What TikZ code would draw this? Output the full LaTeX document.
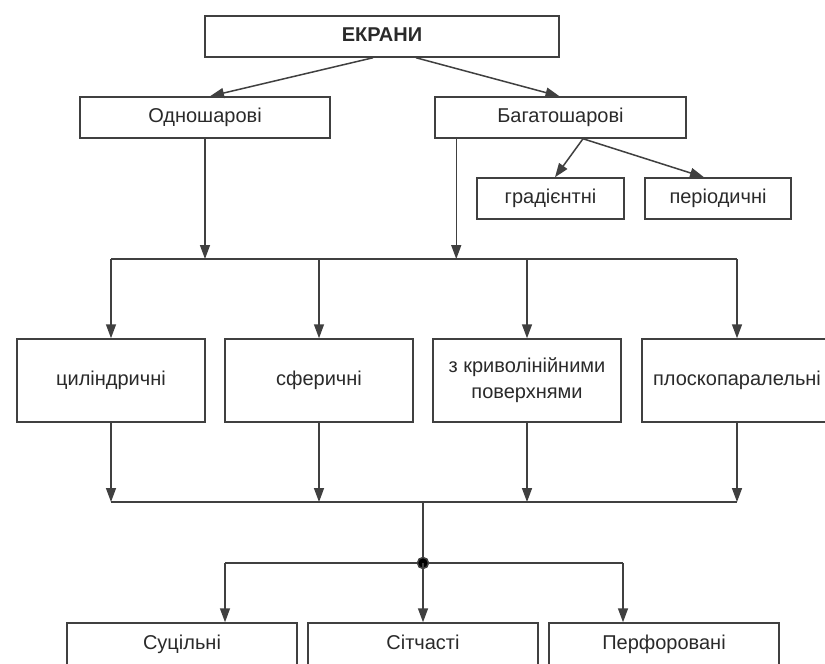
\documentclass[tikz,border=0pt]{standalone}
\usepackage{fontspec}
\setmainfont{Liberation Sans}
\usetikzlibrary{arrows.meta,calc}
\definecolor{ln}{HTML}{404040}
\definecolor{tx}{HTML}{2A2A2A}
\tikzset{
  box/.style={draw=ln, line width=1.5pt, rectangle, inner sep=0pt, align=center,
    text=tx, font=\fontsize{20}{24}\selectfont},
  one/.style={text height=14.5pt, text depth=4.5pt},
  arr/.style={draw=ln, line width=1.5pt, -{Triangle[length=14pt,width=10pt]}},
  ln/.style={draw=ln, line width=1.5pt}
}
\begin{document}
\begin{tikzpicture}[x=1pt,y=-1pt]
\useasboundingbox (0,0) rectangle (825,664);
\clip (0,0) rectangle (825,664);
\fill[white] (0,0) rectangle (825,664);
% top
\node[box, one, minimum width=354pt, minimum height=41pt, font=\bfseries\fontsize{20}{24}\selectfont] (ekr) at (382,36.5) {ЕКРАНИ};
\node[box, one, minimum width=250pt, minimum height=41pt] (odn) at (205,117.5) {Одношарові};
\node[box, one, minimum width=251pt, minimum height=41pt] (bag) at (560.5,117.5) {Багатошарові};
\node[box, one, minimum width=147pt, minimum height=41pt] (grad) at (550.5,198.5) {градієнтні};
\node[box, one, minimum width=146pt, minimum height=41pt] (per) at (718,198.5) {періодичні};
% middle
\node[box, one, minimum width=188pt, minimum height=83pt] (cyl) at (111,380.5) {циліндричні};
\node[box, one, minimum width=188pt, minimum height=83pt] (sph) at (319,380.5) {сферичні};
\node[box, minimum width=188pt, minimum height=83pt] (kriv) at (527,380.5) {з криволінійними\\[2pt]поверхнями};
\node[box, one, minimum width=190pt, minimum height=83pt] (plo) at (737,380.5) {плоскопаралельні};
% bottom
\node[box, one, minimum width=230pt, minimum height=42pt] (sol) at (182,644) {Суцільні};
\node[box, one, minimum width=230pt, minimum height=42pt] (sit) at (423,644) {Сітчасті};
\node[box, one, minimum width=230pt, minimum height=42pt] (perf) at (664,644) {Перфоровані};
% coordinates
\coordinate (b1l) at (111,259);
\coordinate (b1r) at (737,259);
\coordinate (b2l) at (111,502);
\coordinate (b2r) at (737,502);
\coordinate (b2c) at (423,502);
\coordinate (dl) at (225,563);
\coordinate (dr) at (623,563);
\coordinate (dc) at (423,563);
% top arrows
\draw[arr] ([xshift=-9pt]ekr.south) -- ([xshift=5pt]odn.north);
\draw[arr] ([xshift=34pt]ekr.south) -- ([xshift=-1pt]bag.north);
\draw[arr] ([xshift=22.5pt]bag.south) -- ([xshift=4.5pt]grad.north);
\draw[arr] ([xshift=22.5pt]bag.south) -- ([xshift=-14pt]per.north);
\draw[arr] (odn.south) -- (odn.south |- b1l);
\draw[arr] ([xshift=22pt]bag.south west) -- ([xshift=22pt]bag.south west |- b1l);
% bus 1
\draw[ln] (b1l) -- (b1r);
\foreach \n in {cyl,sph,kriv,plo}
  \draw[arr] (\n.north |- b1l) -- (\n.north);
% bus 2
\foreach \n in {cyl,sph,kriv,plo}
  \draw[arr] (\n.south) -- (\n.south |- b2l);
\draw[ln] (b2l) -- (b2r);
\draw[ln] (b2c) -- (dc);
\draw[ln] (dl) -- (dr);
\fill[ln] (dc) circle (5.5pt);
\draw[arr] (dl) -- (sol.north -| dl);
\draw[arr] (dc) -- (sit.north);
\draw[arr] (dr) -- (perf.north -| dr);
\end{tikzpicture}
\end{document}
